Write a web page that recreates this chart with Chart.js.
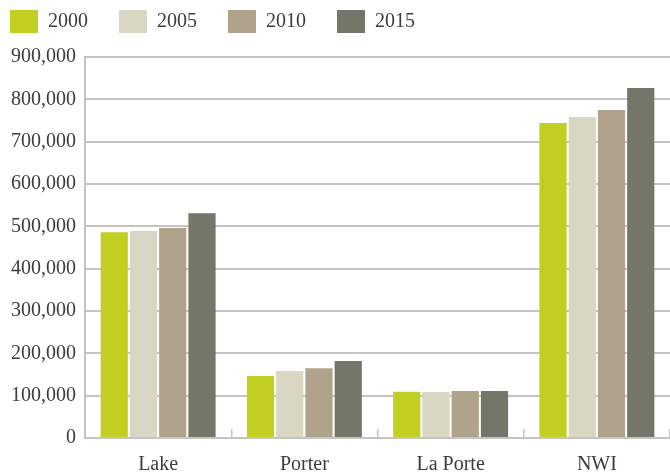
<!DOCTYPE html>
<html>
<head>
<meta charset="utf-8">
<script src="https://cdn.jsdelivr.net/npm/chart.js@4"></script>
<style>
  html, body { margin: 0; padding: 0; background: #fff; }
  #wrap { width: 670px; height: 476px; position: relative; }
</style>
</head>
<body>
<div id="wrap"><canvas id="chart"></canvas></div>
<script>
// Regions along the x axis.
REGIONS = ['Lake', 'Porter', 'La Porte', 'NWI'];

// Population per region, one array per year.
POP_2000 = [486000, 146500, 109000, 744000];
POP_2005 = [489000, 158000, 108500, 758000];
POP_2010 = [496000, 165000, 111000, 775000];
POP_2015 = [531000, 182000, 111000, 827000];

// Y axis range.
Y_MAX = 900000;
Y_STEP = 100000;

// Bar colours, same order as the years.
COLOR_2000 = '#c2cf22';
COLOR_2005 = '#d9d7c4';
COLOR_2010 = '#afa48b';
COLOR_2015 = '#75766a';

GRID_COLOR = '#c4c4c4';
TEXT_COLOR = '#3c3c3c';
FONT_FAMILY = "'Liberation Serif', serif";

// Gap between legend items.
LEGEND_GAP = 31;

// The legend needs a wide gap between items but a tight margin on the left,
// so draw it with a big padding and pull it back afterwards.
const legendShift = {
    id: 'legendShift',
    afterLayout(chart) {
        chart.legend.left -= LEGEND_GAP - 10;
        chart.legend.top -= LEGEND_GAP - 10;
    }
};

function makeDataset(label, data, color) {
    return {
        label: label,
        data: data,
        backgroundColor: color,
        borderWidth: 0,
        categoryPercentage: 0.8,
        barPercentage: 0.93,
    };
}

var ctx = document.getElementById('chart').getContext('2d');
new Chart(ctx, {
    type: 'bar',
    data: {
        labels: REGIONS,
        datasets: [
            makeDataset('2000', POP_2000, COLOR_2000),
            makeDataset('2005', POP_2005, COLOR_2005),
            makeDataset('2010', POP_2010, COLOR_2010),
            makeDataset('2015', POP_2015, COLOR_2015),
        ]
    },
    plugins: [legendShift],
    options: {
        responsive: true,
        maintainAspectRatio: false,
        animation: false,
        devicePixelRatio: 1,
        layout: { padding: 0 },
        scales: {
            x: {
                afterFit(scale) { scale.height = 38; },
                grid: {
                    display: true,
                    drawOnChartArea: false,
                    drawTicks: true,
                    tickLength: -9,
                    color: GRID_COLOR,
                    lineWidth: 1.5,
                },
                border: { display: true, color: GRID_COLOR, width: 2 },
                ticks: {
                    padding: 24,
                    color: TEXT_COLOR,
                    font: { family: FONT_FAMILY, size: 20 },
                },
            },
            y: {
                min: 0,
                max: Y_MAX,
                afterFit(scale) { scale.width = 85; },
                grid: {
                    color: GRID_COLOR,
                    lineWidth: 2,
                    drawTicks: false,
                },
                border: { display: true, color: GRID_COLOR, width: 2 },
                ticks: {
                    stepSize: Y_STEP,
                    padding: 9,
                    color: TEXT_COLOR,
                    font: { family: FONT_FAMILY, size: 20 },
                    callback: function(value) {
                        return value.toLocaleString('en-US');
                    },
                },
            },
        },
        plugins: {
            tooltip: { enabled: false },
            legend: {
                display: true,
                position: 'top',
                align: 'start',
                maxHeight: 57,
                labels: {
                    boxWidth: 28,
                    boxHeight: 23,
                    padding: LEGEND_GAP,
                    color: TEXT_COLOR,
                    font: { family: FONT_FAMILY, size: 20 },
                },
            },
        },
    },
});
</script>
</body>
</html>
